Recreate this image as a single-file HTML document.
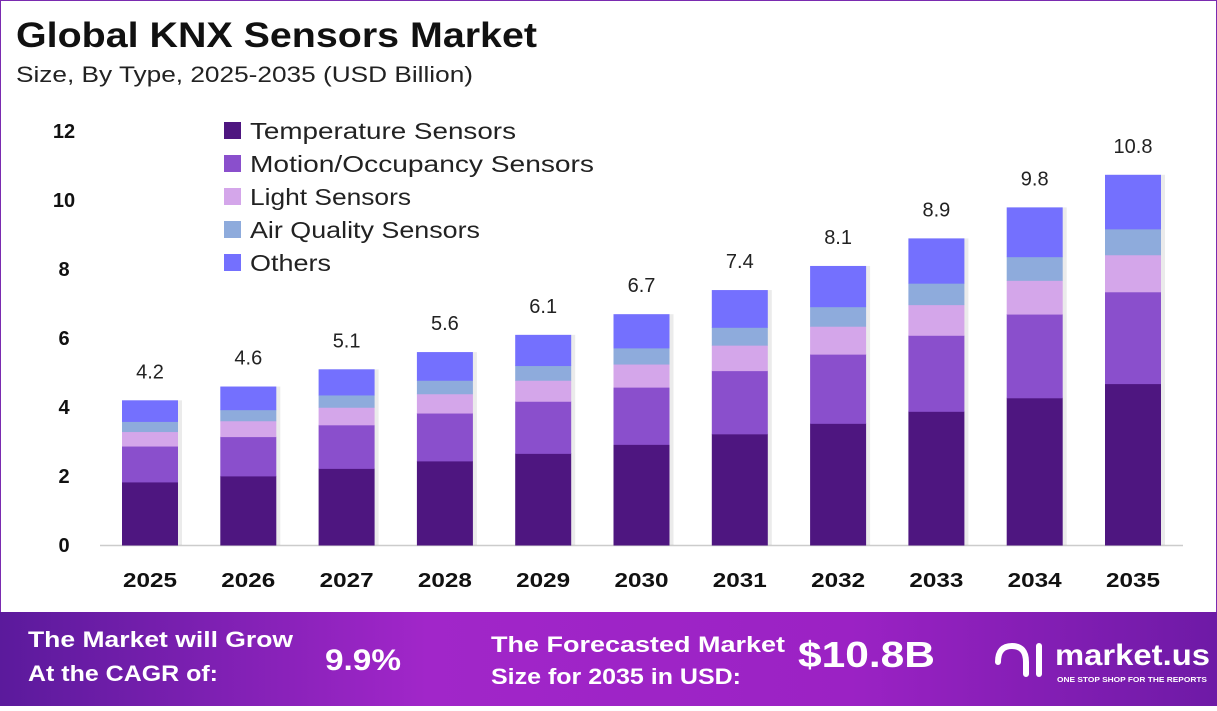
<!DOCTYPE html>
<html><head><meta charset="utf-8"><style>
html,body{margin:0;padding:0;}
body{width:1217px;height:706px;overflow:hidden;background:#fff;font-family:"Liberation Sans",sans-serif;}
</style></head><body>
<svg width="1217" height="706" xmlns="http://www.w3.org/2000/svg" font-family="Liberation Sans, sans-serif">
<defs>
<linearGradient id="ft" x1="0" x2="1" y1="0" y2="0">
<stop offset="0" stop-color="#5b1a9c"/><stop offset="0.35" stop-color="#a126c9"/><stop offset="0.7" stop-color="#9b22c4"/><stop offset="1" stop-color="#6e1aa6"/>
</linearGradient>
</defs>
<rect x="0.5" y="0.5" width="1216" height="705" fill="#fff" stroke="#7a2bb0" stroke-width="1"/>
<text x="16" y="47" font-size="35" font-weight="bold" fill="#111" textLength="521" lengthAdjust="spacingAndGlyphs">Global KNX Sensors Market</text>
<text x="16" y="82" font-size="22" fill="#222" textLength="457" lengthAdjust="spacingAndGlyphs">Size, By Type, 2025-2035 (USD Billion)</text>
<g font-size="20" font-weight="bold" fill="#111" text-anchor="middle">
<text x="64" y="138">12</text><text x="64" y="207">10</text><text x="64" y="276">8</text><text x="64" y="345">6</text><text x="64" y="414">4</text><text x="64" y="483">2</text><text x="64" y="552">0</text>
</g>
<line x1="100" y1="545.5" x2="1183" y2="545.5" stroke="#ccc" stroke-width="1.5"/>
<g id="bars"></g>
<g font-size="23" fill="#222" lengthAdjust="spacingAndGlyphs">
<rect x="224" y="122" width="17" height="17" fill="#4e1680"/><text x="250" y="139" textLength="266" lengthAdjust="spacingAndGlyphs">Temperature Sensors</text>
<rect x="224" y="155" width="17" height="17" fill="#8a4fcc"/><text x="250" y="172" textLength="344" lengthAdjust="spacingAndGlyphs">Motion/Occupancy Sensors</text>
<rect x="224" y="188" width="17" height="17" fill="#d4a6ea"/><text x="250" y="205" textLength="161" lengthAdjust="spacingAndGlyphs">Light Sensors</text>
<rect x="224" y="221" width="17" height="17" fill="#8eabdc"/><text x="250" y="238" textLength="230" lengthAdjust="spacingAndGlyphs">Air Quality Sensors</text>
<rect x="224" y="254" width="17" height="17" fill="#7470fe"/><text x="250" y="271" textLength="81" lengthAdjust="spacingAndGlyphs">Others</text>
</g>
<rect x="0" y="612" width="1217" height="94" fill="url(#ft)"/>
<g fill="#fff" font-weight="bold">
<text x="28" y="647" font-size="22" textLength="265" lengthAdjust="spacingAndGlyphs">The Market will Grow</text>
<text x="28" y="681" font-size="22" textLength="190" lengthAdjust="spacingAndGlyphs">At the CAGR of:</text>
<text x="325" y="670" font-size="30" textLength="76" lengthAdjust="spacingAndGlyphs">9.9%</text>
<text x="491" y="652" font-size="22" textLength="294" lengthAdjust="spacingAndGlyphs">The Forecasted Market</text>
<text x="491" y="684" font-size="22" textLength="250" lengthAdjust="spacingAndGlyphs">Size for 2035 in USD:</text>
<text x="798" y="667" font-size="36" textLength="137" lengthAdjust="spacingAndGlyphs">$10.8B</text>
<text x="1055" y="665" font-size="30" textLength="155" lengthAdjust="spacingAndGlyphs">market.us</text>
<text x="1057" y="682" font-size="7" textLength="150" lengthAdjust="spacingAndGlyphs">ONE STOP SHOP FOR THE REPORTS</text>
<path d="M998 662 q0 -16 14 -16 q14 0 14 16 v12" stroke="#fff" stroke-width="6" fill="none" stroke-linecap="round"/>
<line x1="1039" y1="646" x2="1039" y2="674" stroke="#fff" stroke-width="6" stroke-linecap="round"/>
</g>
</svg>
<script>
var tot=[4.2,4.6,5.1,5.6,6.1,6.7,7.4,8.1,8.9,9.8,10.8];
var fr=[0.436,0.248,0.10,0.07,0.146];
var col=["#4e1680","#8a4fcc","#d4a6ea","#8eabdc","#7470fe"];
var g=document.getElementById("bars"),s="";
for(var i=0;i<11;i++){
 var cx=150+i*98.3, base=545, h=tot[i]*34.45*(i==10?0.995:1), y=base;
 s+='<rect x="'+(cx-26)+'" y="'+(base-h)+'" width="58" height="'+h+'" fill="#000" opacity="0.08"/>';
 for(var k=0;k<5;k++){var hh=h*fr[k];y-=hh;s+='<rect x="'+(cx-28)+'" y="'+y+'" width="56" height="'+(hh+0.5)+'" fill="'+col[k]+'"/>';}
 s+='<text x="'+cx+'" y="'+(base-h-22)+'" font-size="20" fill="#222" text-anchor="middle">'+tot[i]+'</text>';
 s+='<text x="'+cx+'" y="587" font-size="20" font-weight="bold" fill="#111" text-anchor="middle" textLength="54" lengthAdjust="spacingAndGlyphs">'+(2025+i)+'</text>';
}
g.innerHTML=s;
</script>
</body></html>
